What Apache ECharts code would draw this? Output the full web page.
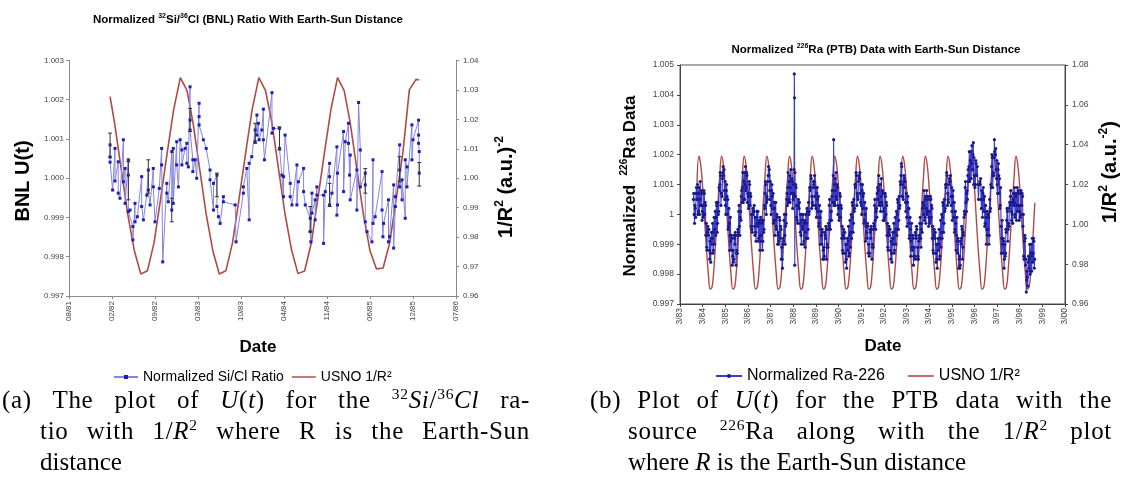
<!DOCTYPE html>
<html><head><meta charset="utf-8">
<script src="https://cdn.jsdelivr.net/npm/echarts@6/dist/echarts.min.js"></script>
<style>
html,body{margin:0;padding:0;background:#fff;width:1122px;height:477px;overflow:hidden}
#chart{position:absolute;left:0;top:0;width:1122px;height:477px}
.cap{position:absolute;font-family:"Liberation Serif","DejaVu Serif",serif;font-size:25px;color:#000;line-height:31px;white-space:nowrap;height:31px}
.j{text-align:justify;text-align-last:justify;white-space:normal;letter-spacing:0.7px}
.cap sup{font-size:0.62em;vertical-align:baseline;position:relative;top:-0.55em;line-height:0}
</style></head><body>
<div id="chart"></div>
<div class="cap j" style="left:2px;top:384px;width:528px">(a) The plot of <i>U</i>(<i>t</i>) for the <sup>32</sup><i>Si</i>/<sup>36</sup><i>Cl</i> ra-</div>
<div class="cap j" style="left:40px;top:415px;width:490px">tio with 1/<i>R</i><sup>2</sup> where R is the Earth-Sun</div>
<div class="cap" style="left:40px;top:446px">distance</div>
<div class="cap j" style="left:590px;top:384px;width:522px">(b) Plot of <i>U</i>(<i>t</i>) for the PTB data with the</div>
<div class="cap j" style="left:628px;top:415px;width:484px">source <sup>226</sup>Ra along with the 1/<i>R</i><sup>2</sup> plot</div>
<div class="cap" style="left:628px;top:446px">where <i>R</i> is the Earth-Sun distance</div>
<script>
// ---------- DATA ----------
const xLabelsA = ['08/81','02/82','09/82','03/83','10/83','04/84','11/84','06/85','12/85','07/86'];
const xLabelsB = ['3/83','3/84','3/85','3/86','3/87','3/88','3/89','3/90','3/91','3/92','3/93','3/94','3/95','3/96','3/97','3/98','3/99','3/00'];

// chart (a): [days since 08/81, value]
const siClRatio = [
[191,1.00085],[191,1.00054],[191,1.00041],[203,0.9997],[214,1.00076],[214,0.99993],
[229,1.00042],[229,0.99962],[237,0.99949],[253,1.00098],[253,0.99991],[261,1.00025],[261,0.99936],
[276,1.00047],[276,1.00008],[276,0.99915],[284,0.99919],[297,0.99877],[297,0.99843],
[307,0.99936],[307,0.99889],[318,0.99902],[338,1.00004],[338,0.99928],[346,0.99894],[362,0.99957],
[369,1.00021],[369,0.9997],[377,0.99932],[392,1.00025],[392,0.99978],[400,0.99889],[420,0.99974],
[431,1.00076],[431,1.00034],[436,0.99787],[455,0.99987],[455,0.99962],[462,0.9994],
[478,1.00068],[478,0.99919],[485,1.00076],[485,0.99936],[501,1.00093],[501,1.00034],[509,0.99978],
[517,1.00098],[525,1.00072],[525,1.00034],[540,1.00076],[548,1.00089],[548,1.00038],[555,1.00029],
[563,1.00233],[563,1.00148],[563,1.00123],[576,1.00047],[576,1.00017],[587,1.00047],[594,1.0],
[605,1.00191],[605,1.00157],[605,1.00136],[625,1.00098],[638,1.00076],[656,1.00021],[656,0.99996],
[672,0.99919],[672,0.99987],[688,1.00008],[688,0.99928],[695,0.99902],[703,0.99885],
[718,0.99953],[718,0.9994],[773,0.99932],[777,0.99838],[811,0.99962],[811,0.99978],[827,1.00025],
[838,0.99894],[838,1.00038],[850,1.00055],[866,1.00123],[866,1.00093],[874,1.00161],[874,1.0011],
[881,1.0014],[884,1.00098],[897,1.00123],[904,1.00176],[904,1.00098],[909,1.00047],
[944,1.00218],[944,1.00115],[951,1.00127],[979,1.00127],[979,1.00076],[990,1.00008],
[998,0.99953],[998,1.00004],[1005,1.0011],[1029,0.99987],[1029,0.99953],[1037,0.99932],
[1060,1.00034],[1060,0.99932],[1067,0.99991],[1091,1.00025],[1091,0.99966],[1099,0.99932],
[1122,0.99898],[1122,0.99864],[1125,0.99838],[1130,0.99962],[1130,0.99911],[1145,0.99945],[1145,0.99894],
[1153,0.99978],[1153,0.99957],[1184,0.99957],[1184,0.99834],[1192,0.99966],
[1212,1.00038],[1212,1.00004],[1212,0.99932],[1223,0.99962],[1246,1.0008],[1246,0.99906],
[1249,0.99932],[1249,1.00013],[1277,1.00119],[1277,0.99966],[1285,1.00093],[1300,1.0014],[1300,1.00089],
[1305,1.00008],[1308,1.00059],[1308,0.99945],[1339,1.00021],[1339,0.99919],[1347,1.00193],
[1355,1.00072],[1355,0.99978],[1378,1.00013],[1378,0.99983],[1378,0.99889],[1386,0.99864],[1409,0.99838],
[1414,1.00047],[1414,0.99885],[1424,0.99902],[1456,1.00017],[1456,0.99919],[1460,0.99851],[1463,0.99885],
[1486,0.99945],[1486,0.99838],[1491,0.99851],[1510,0.99983],[1510,0.99822],[1518,0.99928],[1518,0.99953],
[1538,1.00085],[1538,0.99978],[1538,1.00021],[1549,0.99945],[1549,0.99996],[1564,0.99898],[1564,1.00047],
[1572,1.00029],[1572,0.99978],[1595,1.00136],[1595,1.00047],[1600,1.00098],
[1626,1.00148],[1626,1.0011],[1626,1.00089],[1629,1.00068],[1629,1.00013]
];
// error bars: [day, low, high]
const siClErrors = [
[191,1.00054,1.00115],[276,0.99945,1.00042],[369,0.99962,1.00047],[478,0.99889,0.99949],
[563,1.00119,1.00178],[688,0.99953,1.00013],[866,1.00089,1.0014],[979,1.00072,1.00131],
[1122,0.99864,0.99928],[1212,0.99928,0.99987],[1378,0.99962,1.00025],[1538,0.99991,1.00055],[1629,0.9998,1.0004]
];
// USNO 1/R^2 for chart (a): [day, value]
const usnoA = [
[191,1.0277],[212,1.0188],[243,1.0030],[273,0.9878],[304,0.9754],[334,0.9675],[365,0.9686],[396,0.9782],[426,0.9930],[457,1.0088],[487,1.0234],
[518,1.0342],[549,1.0298],[577,1.0188],[608,1.0030],[638,0.9878],[669,0.9754],[699,0.9675],[730,0.9686],[761,0.9782],[791,0.9930],[822,1.0088],[852,1.0234],
[883,1.0342],[914,1.0298],[943,1.0192],[974,1.0034],[1004,0.9882],[1035,0.9757],[1065,0.9676],[1096,0.9685],[1127,0.9780],[1157,0.9928],[1188,1.0086],[1218,1.0232],
[1249,1.0342],[1280,1.0298],[1308,1.0188],[1339,1.0030],[1369,0.9878],[1400,0.9754],[1430,0.9692],[1461,0.9695],[1492,0.9782],[1522,0.9930],[1553,1.0088],[1583,1.0300],
[1614,1.0336],[1628,1.0334]
];

// chart (b): [month index since 3/83, readings within that month...]
const raMonthly = [
[7,1.0005,1.0007,1.0000,0.9997,1.0003],[8,1.0002,0.9999,1.0007,1.0009,1.0005],[9,1.0005,1.0010,1.0000,1.0001,1.0007],
[10,1.0009,1.0000,1.0005,1.0011,1.0003],[11,1.0003,1.0008,1.0007,0.9998,1.0001],[12,1.0003,0.9999,1.0000,1.0008,1.0007],
[13,1.0000,1.0004,1.0003,0.9993,0.9997],[14,0.9989,0.9988,0.9994,0.9996,0.9995],[15,0.9993,0.9995,0.9988,0.9985,0.9991],
[16,0.9987,0.9984,0.9992,0.9994,0.9990],[17,0.9992,0.9997,0.9987,0.9988,0.9994],[18,0.9999,0.9990,0.9995,1.0001,0.9993],
[19,0.9999,1.0004,1.0003,0.9994,0.9997],[20,1.0004,1.0000,1.0001,1.0009,1.0008],[21,1.0010,1.0014,1.0013,1.0003,1.0007],
[22,1.0007,1.0006,1.0012,1.0014,1.0016],[23,1.0013,1.0015,1.0008,1.0005,1.0011],[24,1.0003,1.0000,1.0008,1.0010,1.0006],
[25,1.0000,1.0005,0.9995,0.9996,1.0002],[26,0.9997,0.9988,0.9993,0.9999,0.9991],[27,0.9988,0.9993,0.9992,0.9983,0.9986],
[28,0.9988,0.9984,0.9985,0.9993,0.9992],[29,0.9990,0.9994,0.9993,0.9983,0.9987],[30,0.9988,0.9987,0.9993,0.9995,0.9994],
[31,1.0001,1.0003,0.9996,0.9993,0.9999],[32,1.0001,0.9998,1.0006,1.0008,1.0004],[33,1.0009,1.0014,1.0004,1.0005,1.0011],
[34,1.0014,1.0005,1.0010,1.0016,1.0008],[35,1.0009,1.0014,1.0013,1.0004,1.0007],[36,1.0006,1.0002,1.0003,1.0011,1.0010],
[37,1.0003,1.0007,1.0006,0.9996,1.0000],[38,0.9995,0.9994,1.0000,1.0002,1.0001],[39,1.0001,1.0003,0.9996,0.9993,0.9999],
[40,0.9994,0.9991,0.9999,1.0001,0.9997],[41,0.9996,1.0001,0.9991,0.9992,0.9998],[42,0.9997,0.9988,0.9993,0.9999,0.9991],
[43,0.9993,0.9998,0.9997,0.9988,0.9991],[44,0.9998,0.9994,0.9995,1.0003,1.0002],[45,1.0007,1.0011,1.0010,1.0000,1.0004],
[46,1.0006,1.0005,1.0011,1.0013,1.0016],[47,1.0013,1.0015,1.0008,1.0005,1.0011],[48,1.0003,1.0000,1.0008,1.0010,1.0006],
[49,1.0002,1.0007,0.9997,0.9998,1.0004],[50,1.0002,0.9993,0.9998,1.0004,0.9996],[51,0.9995,1.0000,0.9999,0.9990,0.9993],
[52,0.9994,0.9990,0.9991,0.9999,0.9998],[53,0.9992,0.9996,0.9995,0.9985,0.9989],[54,0.9985,0.9982,0.9990,0.9992,0.9991],
[55,0.9998,1.0000,0.9993,0.9990,0.9996],[56,1.0000,0.9997,1.0005,1.0007,1.0003],[57,1.0009,1.0014,1.0004,1.0005,1.0011],
[58,1.0013,1.0004,1.0009,1.0015,1.0007],[59,1.0007,1.0012,1.0011,1.0002,1.0005],
[60,1.0010,1.0006,1.0007,1.0015,1.0047,1.0039,0.9983,1.0014],
[61,1.0006,1.0010,1.0009,0.9999,1.0003],[62,0.9998,0.9997,1.0003,1.0005,1.0004],[63,1.0002,1.0004,0.9997,0.9994,1.0000],
[64,0.9993,0.9990,0.9998,1.0000,0.9996],[65,0.9995,1.0000,0.9990,0.9991,0.9997],[66,0.9998,0.9989,0.9994,1.0000,0.9992],
[67,0.9997,1.0002,1.0001,0.9992,0.9995],[68,1.0004,1.0000,1.0001,1.0009,1.0008],[69,1.0009,1.0013,1.0012,1.0002,1.0006],
[70,1.0004,1.0003,1.0009,1.0011,1.0010],[71,1.0011,1.0013,1.0006,1.0003,1.0009],[72,1.0002,0.9999,1.0007,1.0009,1.0005],
[73,1.0001,1.0006,0.9996,0.9997,1.0003],[74,0.9999,0.9990,0.9995,1.0001,0.9993],[75,0.9990,0.9995,0.9994,0.9985,0.9988],
[76,0.9989,0.9985,0.9986,0.9994,0.9993],[77,0.9992,0.9996,0.9995,0.9985,0.9989],[78,0.9990,0.9989,0.9995,0.9997,0.9996],
[79,1.0003,1.0005,0.9998,0.9995,1.0001],[80,1.0001,0.9998,1.0006,1.0008,1.0004],[81,1.0008,1.0013,1.0025,1.0003,1.0004,1.0010],
[82,1.0012,1.0003,1.0008,1.0014,1.0006],[83,1.0005,1.0010,1.0009,1.0000,1.0003],[84,1.0002,0.9998,0.9999,1.0007,1.0006],
[85,0.9999,1.0003,1.0002,0.9992,0.9996],[86,0.9988,0.9987,0.9993,0.9995,0.9994],[87,0.9992,0.9994,0.9987,0.9984,0.9990],
[88,0.9985,0.9982,0.9990,0.9992,0.9988],[89,0.9991,0.9996,0.9986,0.9987,0.9993],[90,0.9998,0.9989,0.9994,1.0000,0.9992],
[91,0.9999,1.0004,1.0003,0.9994,0.9997],[92,1.0005,1.0001,1.0002,1.0010,1.0009],[93,1.0010,1.0014,1.0013,1.0003,1.0007],
[94,1.0006,1.0005,1.0011,1.0013,1.0012],[95,1.0012,1.0014,1.0007,1.0004,1.0010],[96,1.0003,1.0000,1.0008,1.0010,1.0006],
[97,1.0002,1.0007,0.9997,0.9998,1.0004],[98,1.0000,0.9991,0.9996,1.0002,0.9994],[99,0.9992,0.9997,0.9996,0.9987,0.9990],
[100,0.9990,0.9986,0.9987,0.9995,0.9994],[101,0.9992,0.9996,0.9995,0.9985,0.9989],[102,0.9990,0.9989,0.9995,0.9997,0.9996],
[103,1.0003,1.0005,0.9998,0.9995,1.0001],[104,1.0002,0.9999,1.0007,1.0009,1.0005],[105,1.0008,1.0013,1.0003,1.0004,1.0010],
[106,1.0010,1.0001,1.0006,1.0012,1.0004],[107,1.0003,1.0008,1.0007,0.9998,1.0001],[108,1.0002,0.9998,0.9999,1.0007,1.0006],
[109,1.0000,1.0004,1.0003,0.9993,0.9997],[110,0.9989,0.9988,0.9994,0.9996,0.9995],[111,0.9993,0.9995,0.9988,0.9985,0.9991],
[112,0.9987,0.9984,0.9992,0.9994,0.9990],[113,0.9992,0.9997,0.9987,0.9988,0.9994],[114,0.9999,0.9990,0.9995,1.0001,0.9993],
[115,1.0000,1.0005,1.0004,0.9995,0.9998],[116,1.0006,1.0002,1.0003,1.0011,1.0010],[117,1.0013,1.0017,1.0016,1.0006,1.0010],
[118,1.0006,1.0005,1.0011,1.0013,1.0012],[119,1.0009,1.0011,1.0004,1.0001,1.0007],[120,0.9999,0.9996,1.0004,1.0006,1.0002],
[121,0.9997,1.0002,0.9992,0.9993,0.9999],[122,0.9995,0.9986,0.9991,0.9997,0.9989],[123,0.9988,0.9993,0.9992,0.9983,0.9986],
[124,0.9989,0.9985,0.9986,0.9994,0.9993],[125,0.9992,0.9996,0.9995,0.9985,0.9989],[126,0.9986,0.9985,0.9991,0.9993,0.9992],
[127,0.9997,0.9999,0.9992,0.9989,0.9995],[128,0.9997,0.9994,1.0002,1.0004,1.0000],[129,1.0003,1.0008,0.9998,0.9999,1.0005],
[130,1.0006,0.9997,1.0002,1.0008,1.0000],[131,1.0001,1.0006,1.0005,0.9996,0.9999],[132,1.0001,0.9997,0.9998,1.0006,1.0005],
[133,0.9999,1.0003,1.0002,0.9992,0.9996],[134,0.9988,0.9987,0.9993,0.9995,0.9994],[135,0.9992,0.9994,0.9987,0.9984,0.9990],
[136,0.9985,0.9982,0.9990,0.9992,0.9988],[137,0.9990,0.9995,0.9985,0.9986,0.9992],[138,0.9998,0.9989,0.9994,1.0000,0.9992],
[139,0.9999,1.0004,1.0003,0.9994,0.9997],[140,1.0005,1.0001,1.0002,1.0010,1.0009],[141,1.0010,1.0014,1.0013,1.0003,1.0007],
[142,1.0005,1.0004,1.0010,1.0012,1.0011],[143,1.0011,1.0013,1.0006,1.0003,1.0009],[144,1.0001,0.9998,1.0006,1.0008,1.0004],
[145,0.9999,1.0004,0.9994,0.9995,1.0001],[146,0.9997,0.9988,0.9993,0.9999,0.9991],[147,0.9987,0.9992,0.9991,0.9982,0.9985],
[148,0.9986,0.9982,0.9983,0.9991,0.9990],[149,0.9992,0.9996,0.9995,0.9985,0.9989],[150,0.9994,0.9993,0.9999,1.0001,1.0000],
[151,1.0009,1.0011,1.0004,1.0001,1.0007],[152,1.0008,1.0005,1.0013,1.0015,1.0011],[153,1.0016,1.0021,1.0011,1.0012,1.0018],
[154,1.0021,1.0012,1.0017,1.0023,1.0015],[155,1.0015,1.0020,1.0024,1.0010,1.0019,1.0013],[156,1.0013,1.0009,1.0010,1.0018,1.0017],
[157,1.0013,1.0016,1.0010],[158,1.0005,1.0010,1.0011],[159,1.0010,1.0012,1.0005,1.0002,1.0008],
[160,1.0002,0.9999,1.0007,1.0009,1.0005],[161,1.0001,1.0006,0.9996,0.9997,1.0003],[162,0.9999,0.9990,0.9995,1.0001,0.9993],
[163,0.9995,1.0000,0.9999,0.9990,0.9993],[164,1.0005,1.0001,1.0002,1.0010,1.0009],[165,1.0016,1.0020,1.0019,1.0009,1.0013],
[166,1.0014,1.0013,1.0019,1.0025,1.0021,1.0020],[167,1.0020,1.0022,1.0015,1.0012,1.0018],[168,1.0010,1.0007,1.0015,1.0017,1.0013],
[169,1.0007,1.0012,1.0002,1.0003,1.0009],[170,0.9996,0.9987,0.9992,0.9998,0.9990],[171,0.9987,0.9992,0.9991,0.9982,0.9985],
[172,0.9990,0.9986,0.9987,0.9995,0.9994],[173,0.9998,1.0002,1.0001,0.9991,0.9995],[174,0.9997,0.9996,1.0002,1.0004,1.0003],
[175,1.0006,1.0008,1.0001,0.9998,1.0004],[176,1.0000,0.9997,1.0005,1.0007,1.0003],[177,1.0004,1.0009,0.9999,1.0000,1.0006],
[178,1.0007,0.9998,1.0003,1.0009,1.0001],[179,1.0003,1.0008,1.0007,0.9998,1.0001],[180,1.0003,0.9999,1.0000,1.0008,1.0007],
[181,1.0003,1.0007,1.0006,0.9996,1.0000],[182,0.9986,0.9985,0.9991,0.9993,0.9992],[183,0.9983,0.9985,0.9974,0.9978,0.9981],
[184,0.9979,0.9976,0.9984,0.9986,0.9982],[185,0.9985,0.9990,0.9980,0.9981,0.9987],[186,0.9990,0.9981,0.9986,0.9992,0.9984],
[187,0.9987,0.9992,0.9991,0.9982,0.9985]
];
// USNO 1/R^2 for chart (b): monthly values from month index 9 (Dec 1983)
const usnoBStart = 9;
const usnoB = [
1.0200,
1.0342,1.0298,1.0188,1.0030,0.9878,0.9754,0.9675,0.9686,0.9782,0.9930,1.0088,1.0234,
1.0342,1.0298,1.0188,1.0030,0.9878,0.9754,0.9675,0.9686,0.9782,0.9930,1.0088,1.0234,
1.0342,1.0298,1.0188,1.0030,0.9878,0.9754,0.9675,0.9686,0.9782,0.9930,1.0088,1.0234,
1.0342,1.0298,1.0188,1.0030,0.9878,0.9754,0.9675,0.9686,0.9782,0.9930,1.0088,1.0234,
1.0342,1.0298,1.0188,1.0030,0.9878,0.9754,0.9675,0.9686,0.9782,0.9930,1.0088,1.0234,
1.0342,1.0298,1.0188,1.0030,0.9878,0.9754,0.9675,0.9686,0.9782,0.9930,1.0088,1.0234,
1.0342,1.0298,1.0188,1.0030,0.9878,0.9754,0.9675,0.9686,0.9782,0.9930,1.0088,1.0234,
1.0342,1.0298,1.0188,1.0030,0.9878,0.9754,0.9675,0.9686,0.9782,0.9930,1.0088,1.0234,
1.0342,1.0298,1.0188,1.0030,0.9878,0.9754,0.9675,0.9686,0.9782,0.9930,1.0088,1.0234,
1.0342,1.0298,1.0188,1.0030,0.9878,0.9754,0.9675,0.9686,0.9782,0.9930,1.0088,1.0234,
1.0342,1.0298,1.0188,1.0030,0.9878,0.9754,0.9675,0.9686,0.9782,0.9930,1.0088,1.0234,
1.0342,1.0298,1.0188,1.0030,0.9878,0.9754,0.9675,0.9686,0.9782,0.9930,1.0088,1.0234,
1.0342,1.0298,1.0188,1.0030,0.9878,0.9754,0.9675,0.9686,0.9782,0.9930,1.0088,1.0234,
1.0342,1.0298,1.0188,1.0030,0.9878,0.9754,0.9675,0.9686,0.9782,0.9930,1.0088,1.0234,
1.0342,1.0298,1.0188,1.0030,0.9878,0.9754,0.9675,0.9686,0.9782,0.9930,1.0108
];

// ---------- BUILD ----------
const FF = '"Liberation Sans", Arial, sans-serif';
const raPoints = [];
raMonthly.forEach(r => { const n = r.length - 1; for (let j = 1; j <= n; j++) raPoints.push([r[0] + (j - 0.5) / n, r[j]]); });
const usnoBPoints = usnoB.map((v, i) => [usnoBStart + i, v]);

const RED = '#b04a45';
const LINE_ICON = 'path://M0,0L26,0L26,1.6L0,1.6Z';
const lbl = (size) => ({fontSize: size, color: '#444', fontFamily: FF});

function gtext(x, y, text, size, rot, supSize, supLH, lh) {
  return {type: 'text', x: x, y: y, rotation: rot || 0, z: 100,
    style: {text: text, fontSize: size, fontWeight: 'bold', fontFamily: FF, fill: '#000',
      align: 'center', verticalAlign: 'middle', lineHeight: lh || size * 1.2,
      rich: {
        n: {fontSize: size, fontWeight: 'bold', fontFamily: FF, lineHeight: lh || size * 1.2},
        s: {fontSize: supSize, fontWeight: 'bold', fontFamily: FF, lineHeight: supLH, verticalAlign: 'top'}
      }}};
}

const chart = echarts.init(document.getElementById('chart'), null, {renderer: 'canvas'});
chart.setOption({
  animation: false,
  backgroundColor: '#fff',
  grid: [
    {left: 69, top: 60.5, width: 387, height: 235.5},
    {left: 680, top: 65, width: 385, height: 239, show: true, borderColor: '#555', borderWidth: 1, backgroundColor: 'transparent'}
  ],
  xAxis: [
    {gridIndex: 0, type: 'value', min: 0, max: 1800, interval: 200,
     axisLine: {show: true, lineStyle: {color: '#8a8a8a'}}, axisTick: {show: true, length: 3, lineStyle: {color: '#8a8a8a'}},
     splitLine: {show: false},
     axisLabel: Object.assign(lbl(8), {rotate: 90, margin: 5, formatter: v => xLabelsA[Math.round(v / 200)]})},
    {gridIndex: 1, type: 'value', min: 0, max: 204, interval: 12,
     axisLine: {show: true, lineStyle: {color: '#444'}}, axisTick: {show: true, length: 3, lineStyle: {color: '#444'}},
     splitLine: {show: false},
     axisLabel: Object.assign(lbl(8.5), {rotate: 90, margin: 4, formatter: v => xLabelsB[Math.round(v / 12)]})}
  ],
  yAxis: [
    {gridIndex: 0, type: 'value', position: 'left', min: 0.997, max: 1.003, interval: 0.001,
     axisLine: {show: true, lineStyle: {color: '#8a8a8a'}}, axisTick: {show: true, length: 3, lineStyle: {color: '#8a8a8a'}},
     splitLine: {show: false}, axisLabel: Object.assign(lbl(8), {margin: 5, formatter: v => v.toFixed(3)})},
    {gridIndex: 0, type: 'value', position: 'right', min: 0.96, max: 1.04, interval: 0.01,
     axisLine: {show: true, lineStyle: {color: '#8a8a8a'}}, axisTick: {show: true, length: 3, lineStyle: {color: '#8a8a8a'}},
     splitLine: {show: false}, axisLabel: Object.assign(lbl(8), {margin: 7, formatter: v => v.toFixed(2)})},
    {gridIndex: 1, type: 'value', position: 'left', min: 0.997, max: 1.005, interval: 0.001,
     axisLine: {show: true, lineStyle: {color: '#444'}}, axisTick: {show: true, length: 3, lineStyle: {color: '#444'}},
     splitLine: {show: false}, axisLabel: Object.assign(lbl(8.5), {margin: 6, formatter: v => String(parseFloat(v.toFixed(3)))})},
    {gridIndex: 1, type: 'value', position: 'right', min: 0.96, max: 1.08, interval: 0.02,
     axisLine: {show: true, lineStyle: {color: '#444'}}, axisTick: {show: true, length: 3, lineStyle: {color: '#444'}},
     splitLine: {show: false}, axisLabel: Object.assign(lbl(8.5), {margin: 7, formatter: v => v.toFixed(2)})}
  ],
  legend: [
    {data: ['Normalized Si/Cl Ratio', {name: 'USNO 1/R²', icon: LINE_ICON}], left: 108, top: 365, itemWidth: 24, itemHeight: 5, itemGap: 8,
     textStyle: {fontSize: 14, fontFamily: FF, color: '#000'}, selectedMode: false},
    {data: ['Normalized Ra-226', {name: 'USNO 1/R² ', icon: LINE_ICON}], left: 710, top: 363, itemWidth: 26, itemHeight: 5, itemGap: 23,
     textStyle: {fontSize: 16, fontFamily: FF, color: '#000'}, selectedMode: false}
  ],
  series: [
    {name: 'USNO 1/R²', type: 'line', xAxisIndex: 0, yAxisIndex: 1, data: usnoA, symbol: 'none',
     color: RED, lineStyle: {color: RED, width: 1.6}, z: 2},
    {name: 'Normalized Si/Cl Ratio', type: 'line', xAxisIndex: 0, yAxisIndex: 0, data: siClRatio,
     symbol: 'rect', symbolSize: 3, showAllSymbol: true, color: '#1d1db8',
     itemStyle: {color: '#1d1db8'}, lineStyle: {color: '#8585e0', width: 1}, z: 3},
    {name: 'err', type: 'custom', xAxisIndex: 0, yAxisIndex: 0, data: siClErrors, z: 4,
     encode: {x: 0, y: [1, 2]},
     renderItem: function (params, api) {
       const lo = api.coord([api.value(0), api.value(1)]);
       const hi = api.coord([api.value(0), api.value(2)]);
       const st = {stroke: '#333', lineWidth: 1};
       return {type: 'group', children: [
         {type: 'line', shape: {x1: lo[0], y1: lo[1], x2: hi[0], y2: hi[1]}, style: st},
         {type: 'line', shape: {x1: lo[0] - 2, y1: lo[1], x2: lo[0] + 2, y2: lo[1]}, style: st},
         {type: 'line', shape: {x1: hi[0] - 2, y1: hi[1], x2: hi[0] + 2, y2: hi[1]}, style: st}
       ]};
     }},
    {name: 'USNO 1/R² ', type: 'line', xAxisIndex: 1, yAxisIndex: 3, data: usnoBPoints, symbol: 'none', smooth: 0.4,
     color: RED, lineStyle: {color: RED, width: 1.4}, z: 2},
    {name: 'Normalized Ra-226', type: 'line', xAxisIndex: 1, yAxisIndex: 2, data: raPoints,
     symbol: 'circle', symbolSize: 3.2, showAllSymbol: true, color: '#1a1a8a',
     itemStyle: {color: '#1a1a8a'}, lineStyle: {color: '#3c3cc8', width: 1.1}, z: 3}
  ],
  graphic: [
    gtext(248, 20, 'Normalized {s|32}Si/{s|36}Cl (BNL) Ratio With Earth-Sun Distance', 11.5, 0, 7, 6, 14),
    gtext(876, 50, 'Normalized {s|226}Ra (PTB) Data with Earth-Sun Distance', 11.5, 0, 7, 6, 14),
    gtext(23, 181, 'BNL U(t)', 20, Math.PI / 2, 12, 10, 24),
    gtext(506, 187, '1/R{s|2} (a.u.){s|-2}', 20, Math.PI / 2, 12, 10, 24),
    gtext(258, 347, 'Date', 17, 0, 10, 8, 20),
    gtext(630, 186, 'Normalized  {s|226}Ra Data', 17, Math.PI / 2, 10, 8, 21),
    gtext(1110, 172, '1/R{s|2} (a.u.{s|-2})', 20, Math.PI / 2, 12, 10, 24),
    gtext(883, 346, 'Date', 17, 0, 10, 8, 20)
  ]
});
</script>
</body></html>
